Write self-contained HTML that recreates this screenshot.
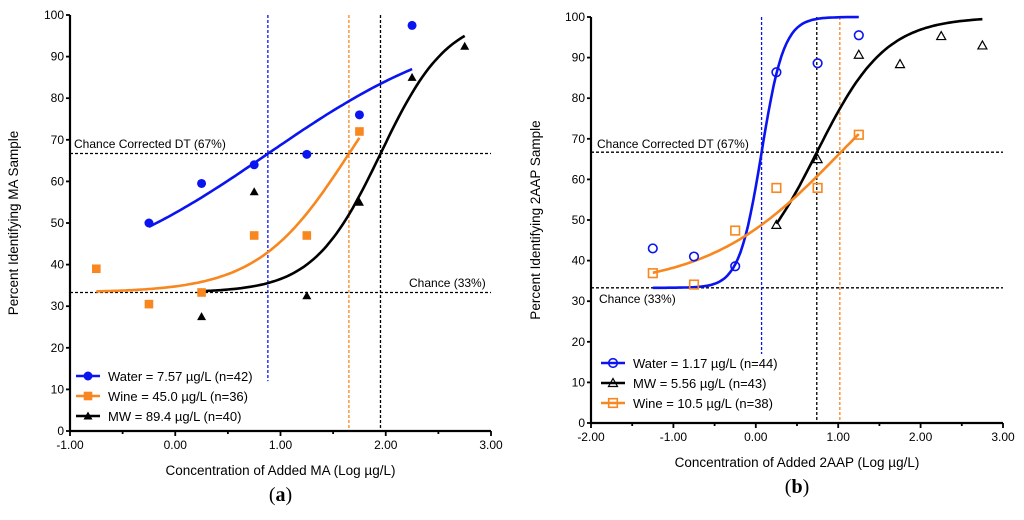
<!DOCTYPE html>
<html><head><meta charset="utf-8">
<style>
body{margin:0;background:#fff;}
svg{display:block;font-family:"Liberation Sans",sans-serif;}
</style></head>
<body>
<svg id="svg" width="1024" height="520" viewBox="0 0 1024 520"></svg>
<script>
// ---- Panel (a) data ----
const aWaterX=[-0.25,0.25,0.75,1.25,1.75,2.25];
const aWaterY=[50,59.5,64,66.5,76,97.5];
const aWineX=[-0.75,-0.25,0.25,0.75,1.25,1.75];
const aWineY=[39,30.5,33.3,47,47,72];
const aMwX=[0.25,0.75,1.25,1.75,2.25,2.75];
const aMwY=[27.5,57.5,32.5,55,85,92.5];
const aFitEC=[0.88,1.65,1.95];
const aFitSlope=[0.45,1.0,1.36];
const aFitRange=[[-0.25,2.25],[-0.75,1.75],[0.25,2.75]];
const aXTicks=[-1,0,1,2,3];
const aXTickLabels=["-1.00","0.00","1.00","2.00","3.00"];
const aLegend=["Water = 7.57 µg/L (n=42)","Wine = 45.0 µg/L (n=36)","MW = 89.4 µg/L (n=40)"];
// ---- Panel (b) data ----
const bWaterX=[-1.25,-0.75,-0.25,0.25,0.75,1.25];
const bWaterY=[43,41,38.6,86.4,88.6,95.5];
const bMwX=[0.25,0.75,1.25,1.75,2.25,2.75];
const bMwY=[48.8,65,90.7,88.4,95.3,93];
const bWineX=[-1.25,-0.75,-0.25,0.25,0.75,1.25];
const bWineY=[36.9,34.1,47.4,57.9,57.9,71];
const bFitEC=[0.07,0.74,1.03];
const bFitSlope=[3.2,1.04,0.54];
const bFitRange=[[-1.25,1.25],[0.25,2.75],[-1.25,1.25]];
const bXTicks=[-2,-1,0,1,2,3];
const bXTickLabels=["-2.00","-1.00","0.00","1.00","2.00","3.00"];
const bLegend=["Water = 1.17 µg/L (n=44)","MW = 5.56 µg/L (n=43)","Wine = 10.5 µg/L (n=38)"];
const yTicks=[0,10,20,30,40,50,60,70,80,90,100];

const NS="http://www.w3.org/2000/svg";
const svg=document.getElementById('svg');
function el(tag,attrs,parent,text){const e=document.createElementNS(NS,tag);for(const k in attrs)e.setAttribute(k,attrs[k]);if(text!==undefined)e.textContent=text;(parent||svg).appendChild(e);return e;}
const BLUE="#0a14f0",ORANGE="#f7871e",BLACK="#000";
function logistic(x,ec,h){return 33.3+(100-33.3)/(1+Math.pow(10,(ec-x)*h));}

function panel(P){
  const g=el('g',{});
  
  
  const sx=v=>P.x0+(v-P.xmin)/(P.xmax-P.xmin)*(P.x1-P.x0);
  const sy=v=>P.y0-(v/100)*(P.y0-P.y1);
  // reference lines
  [[66.7,'chance-corrected-line'],[33.3,'chance-line']].forEach(([v,n])=>{
    const l=el('line',{x1:P.x0,x2:P.x1,y1:sy(v),y2:sy(v),stroke:'#000','stroke-width':1.3,'stroke-dasharray':'3,2'},g);
    
  });
  P.vlines.forEach(([v,c,bot,n])=>{
    const l=el('line',{x1:sx(v),x2:sx(v),y1:sy(100),y2:sy(bot),stroke:c,'stroke-width':1.3,'stroke-dasharray':'3,2'},g);
    
  });
  let t=el('text',{x:P.ccLabel[0],y:P.ccLabel[1],'font-size':12},g,'Chance Corrected DT (67%)');
  
  t=el('text',{x:P.cLabel[0],y:P.cLabel[1],'font-size':12},g,'Chance (33%)');
  
  // fits
  P.series.forEach((s,i)=>{
    let d='';const [a,b]=P.range[i];
    for(let k=0;k<=80;k++){const x=a+(b-a)*k/80;d+=(k?'L':'M')+sx(x).toFixed(1)+','+sy(logistic(x,P.ec[i],P.slope[i])).toFixed(1);}
    const p=el('path',{d:d,fill:'none',stroke:s.color,'stroke-width':2.6},g);
    
  });
  // points
  function marker(gg,shape,cx,cy,c,open){
    const fill=open?'none':c, sw=open?1.6:0;
    if(shape==='circle')return el('circle',{cx:cx,cy:cy,r:open?4.3:4.5,fill:fill,stroke:c,'stroke-width':sw},gg);
    if(shape==='square')return el('rect',{x:cx-4.3,y:cy-4.3,width:8.6,height:8.6,fill:fill,stroke:c,'stroke-width':sw},gg);
    return el('path',{d:`M${cx},${cy-4.5}L${cx+4.5},${cy+3.5}L${cx-4.5},${cy+3.5}Z`,fill:fill,stroke:c,'stroke-width':open?1.2:0},gg);
  }
  P.series.forEach(s=>{
    s.xs.forEach((xv,j)=>{
      const m=marker(g,s.shape,sx(xv),sy(s.ys[j]),s.color,P.open);
      
    });
  });
  // axes
  const ax=el('path',{d:`M${P.x0},${sy(100)}V${P.y0}H${P.x1}`,fill:'none',stroke:'#000','stroke-width':2.2},g);
  
  yTicks.forEach(v=>{
    el('line',{x1:P.x0-4,x2:P.x0,y1:sy(v),y2:sy(v),stroke:'#000','stroke-width':1.8},g);
    const tt=el('text',{x:P.x0-6,y:sy(v)+4,'font-size':12,'text-anchor':'end'},g,String(v));
    
  });
  for(let v=P.xmin;v<=P.xmax+1e-9;v+=0.5){
    const major=Math.abs(v-Math.round(v))<1e-9;
    el('line',{x1:sx(v),x2:sx(v),y1:P.y0,y2:P.y0+(major?5:3),stroke:'#000','stroke-width':1.8},g);
  }
  P.xt.forEach((v,i)=>{
    const tt=el('text',{x:sx(v),y:P.y0+18,'font-size':12,'text-anchor':'middle'},g,P.xtl[i]);
    
  });
  t=el('text',{x:(P.x0+P.x1)/2,y:P.y0+44,'font-size':13.5,'text-anchor':'middle'},g,P.xtitle);
  
  t=el('text',{x:P.ytx,y:(sy(0)+sy(100))/2,'font-size':13.5,'text-anchor':'middle',transform:`rotate(-90 ${P.ytx} ${(sy(0)+sy(100))/2})`},g,P.ytitle);
  
  t=el('text',{x:(P.x0+P.x1)/2,y:P.y0+70,'font-size':20,'text-anchor':'middle','font-family':'Liberation Serif, serif'},g);
  
  el('tspan',{},t,'(');el('tspan',{'font-weight':'bold'},t,P.letter);el('tspan',{},t,')');
  // legend
  P.series.forEach((s,i)=>{
    const ly=P.leg[1]+i*20;
    const lg=el('g',{},g);
    
    el('line',{x1:P.leg[0],x2:P.leg[0]+24,y1:ly,y2:ly,stroke:s.color,'stroke-width':2.6},lg);
    marker(lg,s.shape,P.leg[0]+12,ly,s.color,P.open);
    el('text',{x:P.leg[0]+32,y:ly+5,'font-size':13},lg,P.legend[i]);
  });
}

panel({name:'panel-a',letter:'a',x0:70,x1:491,y0:431,y1:15,xmin:-1,xmax:3,open:false,
  series:[{key:'water',xs:aWaterX,ys:aWaterY,color:BLUE,shape:'circle'},
          {key:'wine',xs:aWineX,ys:aWineY,color:ORANGE,shape:'square'},
          {key:'mw',xs:aMwX,ys:aMwY,color:BLACK,shape:'triangle'}],
  ec:aFitEC,slope:aFitSlope,range:aFitRange,xt:aXTicks,xtl:aXTickLabels,legend:aLegend,
  vlines:[[0.88,BLUE,12,'water-dt-line'],[1.65,ORANGE,0,'wine-dt-line'],[1.95,BLACK,0,'mw-dt-line']],
  ccLabel:[74,148],cLabel:[409,287],leg:[76,376],
  xtitle:'Concentration of Added MA (Log µg/L)',ytitle:'Percent Identifying MA Sample',ytx:18});

panel({name:'panel-b',letter:'b',x0:591,x1:1003,y0:423,y1:17,xmin:-2,xmax:3,open:true,
  series:[{key:'water',xs:bWaterX,ys:bWaterY,color:BLUE,shape:'circle'},
          {key:'mw',xs:bMwX,ys:bMwY,color:BLACK,shape:'triangle'},
          {key:'wine',xs:bWineX,ys:bWineY,color:ORANGE,shape:'square'}],
  ec:bFitEC,slope:bFitSlope,range:bFitRange,xt:bXTicks,xtl:bXTickLabels,legend:bLegend,
  vlines:[[0.07,BLUE,17,'water-dt-line'],[0.74,BLACK,0,'mw-dt-line'],[1.02,ORANGE,0,'wine-dt-line']],
  ccLabel:[597,148],cLabel:[599,303],leg:[601,363],
  xtitle:'Concentration of Added 2AAP (Log µg/L)',ytitle:'Percent Identifying 2AAP Sample',ytx:540});
</script>
</body></html>
